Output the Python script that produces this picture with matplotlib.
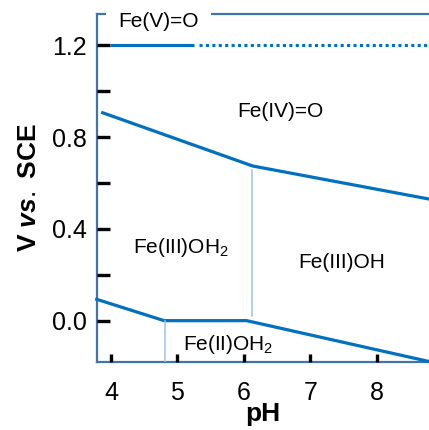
import matplotlib
matplotlib.use("Agg")
import matplotlib.pyplot as plt

plt.rcParams['font.family'] = ['Liberation Sans', 'DejaVu Sans']
plt.rcParams['mathtext.default'] = 'regular'
plt.rcParams['mathtext.fontset'] = 'custom'
plt.rcParams['mathtext.it'] = 'Liberation Sans:italic:bold'
plt.rcParams['mathtext.rm'] = 'Liberation Sans'

# Pourbaix-type diagram: pH vs potential (V vs. SCE)
feV_solid_ph = [3.985, 5.25]
feV_solid_v = [1.2, 1.2]
feV_dot_ph = [5.33, 8.787]
feV_dot_v = [1.2, 1.2]

feIV_ph = [3.875, 6.133, 8.787]
feIV_v = [0.906, 0.674, 0.530]

feII_ph = [3.785, 4.80, 6.043, 8.787]
feII_v = [0.093, 0.0, 0.0, -0.178]

pka1_ph = [4.81, 4.81]
pka1_v = [0.0, -0.178]
pka2_ph = [6.118, 6.118]
pka2_v = [0.655, 0.02]

labels = ['Fe(V)=O', 'Fe(IV)=O', 'Fe(III)OH$_2$', 'Fe(III)OH', 'Fe(II)OH$_2$']
label_ph = [4.107, 5.897, 4.33, 6.816, 5.084]
label_v = [1.280, 0.887, 0.295, 0.229, -0.128]

blue = '#0070c0'
light = '#9dc3e6'
spine_col = '#4174ab'

fig = plt.figure(figsize=(4.29, 4.30), dpi=100)
ax = fig.add_axes([0.2254, 0.1593, 0.7746, 0.8074])

ax.plot(feV_solid_ph, feV_solid_v, color=blue, lw=2.2, solid_capstyle='butt')
ax.plot(feV_dot_ph, feV_dot_v, color=blue, lw=2.2, linestyle=(0, (1, 1.1)),
        dash_capstyle='butt')
ax.plot(feIV_ph, feIV_v, color=blue, lw=2.3, clip_on=False)
ax.plot(feII_ph, feII_v, color=blue, lw=2.3, clip_on=False)
ax.plot(pka1_ph, pka1_v, color=light, lw=1.1)
ax.plot(pka2_ph, pka2_v, color=light, lw=1.1)

for i, (txt, x, y) in enumerate(zip(labels, label_ph, label_v)):
    if i == 0:
        ax.text(x, y, txt, fontsize=15, ha='left', va='baseline', zorder=10,
                clip_on=False,
                bbox=dict(facecolor='white', edgecolor='none', pad=9))
    else:
        ax.text(x, y, txt, fontsize=15, ha='left', va='baseline')

ax.set_xlim(3.785, 8.787)
ax.set_ylim(-0.178, 1.335)
ax.set_xticks([4, 5, 6, 7, 8])
ax.set_yticks([0.0, 0.2, 0.4, 0.6, 0.8, 1.0, 1.2])
ax.set_yticklabels(['0.0', '', '0.4', '', '0.8', '', '1.2'])

ax.spines['right'].set_visible(False)
for s in ['left', 'bottom', 'top']:
    ax.spines[s].set_color(spine_col)
    ax.spines[s].set_linewidth(1.6)
    ax.spines[s].set_zorder(1)

ax.tick_params(axis='y', direction='in', length=9, width=2.4, color='black',
               labelsize=18, pad=7)
ax.tick_params(axis='x', direction='in', length=6, width=2.4, color='black',
               labelsize=18, pad=14)

ax.set_xlabel('pH', fontsize=19, fontweight='bold', labelpad=-2)
ax.set_ylabel(r'V $\it{vs.}$ SCE', fontsize=19, fontweight='bold', labelpad=8)

fig.savefig('out.png', dpi=100)
